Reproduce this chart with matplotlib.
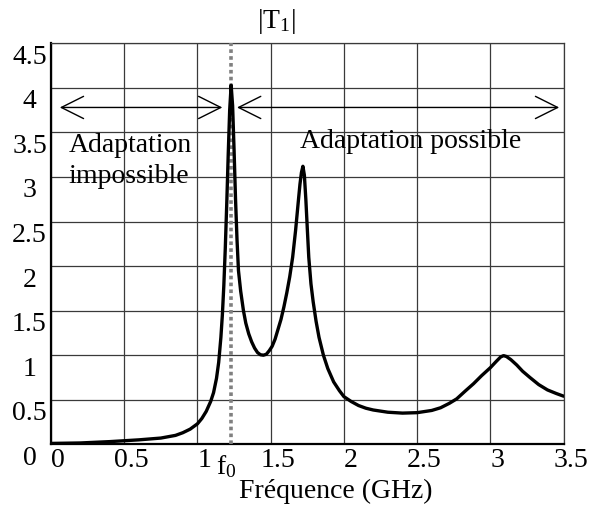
import matplotlib
matplotlib.use("Agg")
import matplotlib.pyplot as plt
from matplotlib.transforms import ScaledTranslation

plt.rcParams['font.family'] = ['Liberation Serif', 'DejaVu Serif']
plt.rcParams['mathtext.fontset'] = 'custom'
plt.rcParams['mathtext.rm'] = 'Liberation Serif'
plt.rcParams['mathtext.it'] = 'Liberation Serif:italic'

# Data
freq = [0.0, 0.2, 0.4, 0.6, 0.75, 0.85, 0.9, 0.95, 1.0, 1.03, 1.06, 1.09,
        1.11, 1.13, 1.145, 1.16, 1.17, 1.18, 1.19, 1.2, 1.21, 1.22, 1.23,
        1.24, 1.25, 1.26, 1.27, 1.28, 1.295, 1.314, 1.33, 1.35, 1.37, 1.39,
        1.41, 1.43, 1.45, 1.47, 1.49, 1.51, 1.53, 1.55, 1.57, 1.59, 1.61,
        1.63, 1.65, 1.67, 1.69, 1.70, 1.71, 1.72, 1.73, 1.74, 1.75, 1.76,
        1.775, 1.79, 1.81, 1.83, 1.86, 1.89, 1.93, 1.97, 2.0, 2.05, 2.1,
        2.15, 2.2, 2.3, 2.4, 2.5, 2.6, 2.66, 2.72, 2.77, 2.83, 2.885, 2.94,
        3.0, 3.04, 3.07, 3.09, 3.11, 3.14, 3.18, 3.22, 3.27, 3.33, 3.39,
        3.45, 3.5]
t1 = [0.01, 0.015, 0.03, 0.05, 0.07, 0.1, 0.13, 0.17, 0.23, 0.29, 0.37, 0.48,
      0.58, 0.74, 0.92, 1.2, 1.45, 1.78, 2.2, 2.7, 3.25, 3.75, 4.03,
      3.8, 3.3, 2.75, 2.3, 1.95, 1.72, 1.5, 1.36, 1.24, 1.15, 1.08,
      1.03, 1.005, 1.0, 1.01, 1.05, 1.1, 1.18, 1.29, 1.4, 1.54, 1.7,
      1.88, 2.1, 2.4, 2.75, 2.92, 3.05, 3.12, 3.02, 2.75, 2.42, 2.1,
      1.8, 1.6, 1.38, 1.2, 1.0, 0.85, 0.7, 0.6, 0.535, 0.48, 0.435,
      0.405, 0.385, 0.36, 0.35, 0.355, 0.38, 0.41, 0.46, 0.51, 0.6, 0.68, 0.77,
      0.86, 0.93, 0.98, 0.995, 0.985, 0.95, 0.89, 0.82, 0.75, 0.67, 0.61,
      0.57, 0.54]

xticks = [0, 0.5, 1, 1.5, 2, 2.5, 3, 3.5]
xtick_labels = ['0', '0.5', '1', '1.5', '2', '2.5', '3', '3.5']
yticks = [0, 0.5, 1, 1.5, 2, 2.5, 3, 3.5, 4, 4.5]
ytick_labels = ['0', '0.5', '1', '1.5', '2', '2.5', '3', '3.5', '4', '4.5']

f0 = 1.23
arrow_y = 3.78
left_arrow = (0.06, 1.17)
right_arrow = (1.27, 3.47)

fig = plt.figure(figsize=(5.93, 5.08), dpi=100)
ax = fig.add_axes([51/593, 1-444.3/508, (563.6-51)/593, (444.3-43.3)/508])

ax.set_xlim(0, 3.5)
ax.set_ylim(0, 4.5)
ax.set_xticks(xticks, xtick_labels)
ax.set_yticks(yticks, ytick_labels)
ax.grid(True, color='#3a3a3a', lw=0.9)
ax.set_axisbelow(True)
for s in ['left', 'bottom']:
    ax.spines[s].set_linewidth(1.6)
    ax.spines[s].set_color('black')
for s in ['top', 'right']:
    ax.spines[s].set_linewidth(0.9)
    ax.spines[s].set_color('#3a3a3a')

ax.tick_params(axis='both', length=0, labelsize=20)
ax.tick_params(axis='x', pad=3)
ax.tick_params(axis='y', pad=15.5)
for lab in ax.get_yticklabels():
    lab.set_horizontalalignment('center')
    lab.set_transform(lab.get_transform() + ScaledTranslation(0, -11/100, fig.dpi_scale_trans))
for lab in ax.get_xticklabels():
    lab.set_transform(lab.get_transform() + ScaledTranslation(7/100, 0, fig.dpi_scale_trans))

ax.axvline(f0, color='#808080', lw=2.6, linestyle=(0, (1.0, 0.9)), zorder=3)
ax.plot(freq, t1, color='black', lw=2.4, zorder=4,
        solid_joinstyle='round', solid_capstyle='round')

arrowprops = dict(arrowstyle='<->, head_length=1.6, head_width=0.8',
                  lw=1.0, color='black', shrinkA=0, shrinkB=0, mutation_scale=10)
ax.annotate('', xy=(left_arrow[0], arrow_y), xytext=(left_arrow[1], arrow_y),
            arrowprops=arrowprops)
ax.annotate('', xy=(right_arrow[0], arrow_y), xytext=(right_arrow[1], arrow_y),
            arrowprops=arrowprops)

ax.text(0.12, 3.28, 'Adaptation', fontsize=20, ha='left', va='baseline')
ax.text(0.12, 2.93, 'impossible', fontsize=20, ha='left', va='baseline')
ax.text(1.70, 3.32, 'Adaptation possible', fontsize=20, ha='left', va='baseline')

fig.text(226.5/593, 1-474/508, r'$\mathrm{f}_0$', fontsize=20, ha='center', va='baseline')
fig.text(276/593, 1-28.3/508, r'$\mathrm{|T}_1\mathrm{|}$', fontsize=20, ha='center', va='baseline')
fig.text(336/593, 1-498.3/508, 'Fréquence (GHz)', fontsize=20, ha='center', va='baseline')

fig.savefig('out.png', dpi=100)
